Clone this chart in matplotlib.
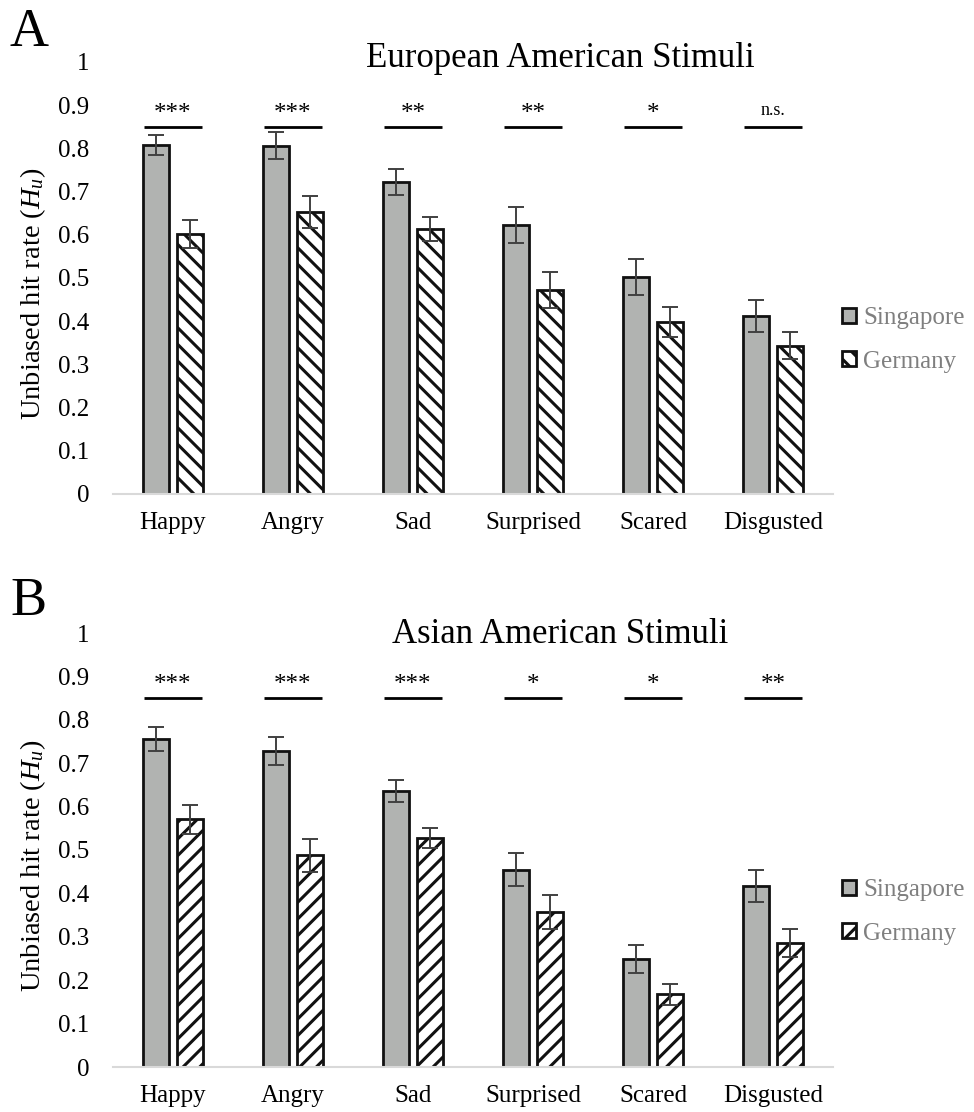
import numpy as np
import matplotlib
matplotlib.use("Agg")
import matplotlib.pyplot as plt
from matplotlib.patches import Patch

plt.rcParams['font.family'] = ['Liberation Serif', 'DejaVu Serif']
plt.rcParams['mathtext.fontset'] = 'custom'
plt.rcParams['mathtext.rm'] = 'Liberation Serif'
plt.rcParams['mathtext.it'] = 'Liberation Serif:italic'
plt.rcParams['hatch.linewidth'] = 2.2

emotions = ["Happy", "Angry", "Sad", "Surprised", "Scared", "Disgusted"]
groups = ["Singapore", "Germany"]

# Panel A: European American stimuli
eu_singapore = [0.808, 0.806, 0.723, 0.622, 0.502, 0.412]
eu_singapore_err = [0.024, 0.031, 0.030, 0.042, 0.042, 0.036]
eu_germany = [0.602, 0.653, 0.614, 0.472, 0.398, 0.343]
eu_germany_err = [0.033, 0.037, 0.028, 0.042, 0.034, 0.031]
eu_sig = ["***", "***", "**", "**", "*", "n.s."]

# Panel B: Asian American stimuli
as_singapore = [0.755, 0.728, 0.636, 0.455, 0.249, 0.417]
as_singapore_err = [0.028, 0.033, 0.025, 0.037, 0.032, 0.036]
as_germany = [0.571, 0.488, 0.528, 0.357, 0.168, 0.286]
as_germany_err = [0.033, 0.038, 0.023, 0.040, 0.024, 0.032]
as_sig = ["***", "***", "***", "*", "*", "**"]

yticks = [0, 0.1, 0.2, 0.3, 0.4, 0.5, 0.6, 0.7, 0.8, 0.9, 1]
ytick_labels = ["0", "0.1", "0.2", "0.3", "0.4", "0.5", "0.6", "0.7", "0.8", "0.9", "1"]

GRAY = '#b1b3b1'
W, H = 974, 1112
fig = plt.figure(figsize=(W / 100, H / 100), dpi=100)


def panel(rect, sg, sg_err, de, de_err, sig, hatch, title, title_y, letter, letter_y, legend_y):
    ax = fig.add_axes(rect)
    x = np.arange(len(emotions))
    off = 0.142
    bw = 0.215
    ax.bar(x - off, sg, bw, color=GRAY, edgecolor='#111111', linewidth=2.0, zorder=2)
    ax.bar(x + off, de, bw, color='white', edgecolor='#111111', linewidth=2.0, hatch=hatch, zorder=2)
    ax.errorbar(x - off, sg, yerr=sg_err, fmt='none', ecolor='#404040', elinewidth=1.4,
                capsize=6, capthick=1.4, zorder=3)
    ax.errorbar(x + off, de, yerr=de_err, fmt='none', ecolor='#404040', elinewidth=1.4,
                capsize=6, capthick=1.4, zorder=3)
    for xi, s in zip(x, sig):
        ax.plot([xi - 0.245, xi + 0.245], [0.85, 0.85], color='black', lw=2.0,
                solid_capstyle='butt', zorder=3)
        if s == 'n.s.':
            ax.text(xi, 0.877, s, ha='center', va='baseline', fontsize=13)
        else:
            ax.text(xi, 0.866, s, ha='center', va='baseline', fontsize=18)
    ax.set_xlim(-0.5, len(emotions) - 0.5)
    ax.set_ylim(0, 1)
    ax.set_yticks(yticks)
    ax.set_yticklabels(ytick_labels)
    ax.set_xticks(x)
    ax.set_xticklabels(emotions)
    ax.tick_params(axis='both', length=0, labelsize=18)
    ax.tick_params(axis='y', pad=17)
    ax.tick_params(axis='x', pad=13)
    for sp in ['top', 'right', 'left']:
        ax.spines[sp].set_visible(False)
    ax.spines['bottom'].set_color('#d9d9d9')
    ax.spines['bottom'].set_linewidth(1.5)
    ax.set_ylabel("Unbiased hit rate ($H_u$)", fontsize=20.5)
    ax.yaxis.set_label_coords((48 - 113) / 720, 0.463)
    fig.text(560 / W, 1 - title_y / H, title, ha='center', va='baseline', fontsize=25)
    fig.text(10 / W, 1 - letter_y / H, letter, ha='left', va='baseline', fontsize=39)
    handles = [Patch(facecolor=GRAY, edgecolor='#111111', linewidth=2.0, label=groups[0]),
               Patch(facecolor='white', edgecolor='#111111', linewidth=2.0, hatch=hatch, label=groups[1])]
    leg = fig.legend(handles=handles, loc='center left', bbox_to_anchor=(842 / W, 1 - legend_y / H),
                     frameon=False, fontsize=18, handlelength=0.55, handleheight=0.55,
                     handletextpad=0.3, labelspacing=0.85, borderpad=0, borderaxespad=0)
    for t in leg.get_texts():
        t.set_color('#7f7f7f')
    return ax


panel([113 / W, 1 - 494 / H, 720 / W, 432 / H], eu_singapore, eu_singapore_err,
      eu_germany, eu_germany_err, eu_sig, '\\\\', "European American Stimuli", 67, "A", 46, 340)
panel([113 / W, 1 - 1067 / H, 720 / W, 434 / H], as_singapore, as_singapore_err,
      as_germany, as_germany_err, as_sig, '//', "Asian American Stimuli", 643, "B", 615, 912)

fig.savefig("out.png", dpi=100)
